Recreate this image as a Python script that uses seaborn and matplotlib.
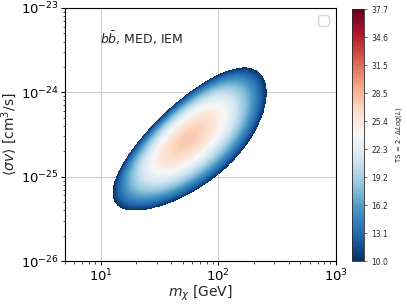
import numpy as np
import matplotlib
matplotlib.use("Agg")
import matplotlib.pyplot as plt
import seaborn as sns

# ---- data (likelihood surface parameters) ----
mass_range = [5.0, 1000.0]          # GeV
sigv_range = [1e-26, 1e-23]         # cm^3/s
peak_log_mass = 1.746               # log10(m_chi) at max TS
peak_log_sigv = -24.552             # log10(<sigma v>) at max TS
peak_ts = 27.5
ts_min = 10.0
ts_max = 37.7
axis_slope = 1.434                  # direction of degeneracy in log-log space
curv_major = 17.75                  # TS drop curvature along degeneracy
curv_minor = 118.4                  # TS drop curvature across it
skew_minor = 0.763                  # asymmetry across the degeneracy
cbar_ticks = np.linspace(ts_min, ts_max, 10)
x_ticks = [10, 100, 1000]
y_ticks = [1e-26, 1e-25, 1e-24, 1e-23]

# ---- grid ----
lm = np.linspace(np.log10(mass_range[0]), np.log10(mass_range[1]), 600)
ls = np.linspace(np.log10(sigv_range[0]), np.log10(sigv_range[1]), 600)
LM, LS = np.meshgrid(lm, ls)
u = LM - peak_log_mass
v = LS - peak_log_sigv
th = np.arctan(axis_slope)
s = u * np.cos(th) + v * np.sin(th)
t = -u * np.sin(th) + v * np.cos(th)
Q = curv_major * s**2 + curv_minor * t**2 * np.exp(skew_minor * t)
TS = peak_ts - Q
TS = np.ma.masked_less(TS, ts_min)

sns.set_style("ticks")
plt.rcParams['font.family'] = ['DejaVu Sans']

fig = plt.figure(figsize=(4.07, 3.05), dpi=100)
ax = fig.add_axes([0.160, 0.144, 0.665, 0.830])
cax = fig.add_axes([0.865, 0.144, 0.029, 0.826])

cmap = sns.color_palette("RdBu_r", as_cmap=True)
levels = np.linspace(ts_min, ts_max, 200)
cs = ax.contourf(10**LM, 10**LS, TS, levels=levels, cmap=cmap,
                 vmin=ts_min, vmax=ts_max)

ax.set_xscale("log")
ax.set_yscale("log")
ax.set_xlim(*mass_range)
ax.set_ylim(*sigv_range)
ax.set_xticks(x_ticks)
ax.set_yticks(y_ticks)
ax.grid(True, which="major", color="#cccccc", linewidth=0.8)
ax.tick_params(which="major", labelsize=9.5, length=3, width=0.8,
               colors="black", pad=1.5)
ax.tick_params(which="minor", length=1.8, width=0.6)
for sp in ax.spines.values():
    sp.set_color("black")
    sp.set_linewidth(0.8)
ax.set_xlabel(r"$m_\chi$ [GeV]", fontsize=10, labelpad=0)
ax.set_ylabel(r"$\langle\sigma v\rangle$ [cm$^3$/s]", fontsize=10, labelpad=1)
ax.text(0.13, 0.88, r"$b\bar{b}$, MED, IEM", transform=ax.transAxes,
        fontsize=9, ha="left", va="center")
ax.legend(handles=[], loc="upper right", frameon=True)

cb = fig.colorbar(cs, cax=cax, ticks=cbar_ticks)
cb.ax.set_yticklabels([f"{tk:.1f}" for tk in cbar_ticks])
cb.ax.tick_params(labelsize=5.5, length=2, width=0.5)
cb.set_label(r"TS = $2\cdot\Delta Log(L)$", fontsize=5)
cb.outline.set_linewidth(0.6)

fig.savefig("out.png", dpi=100)
